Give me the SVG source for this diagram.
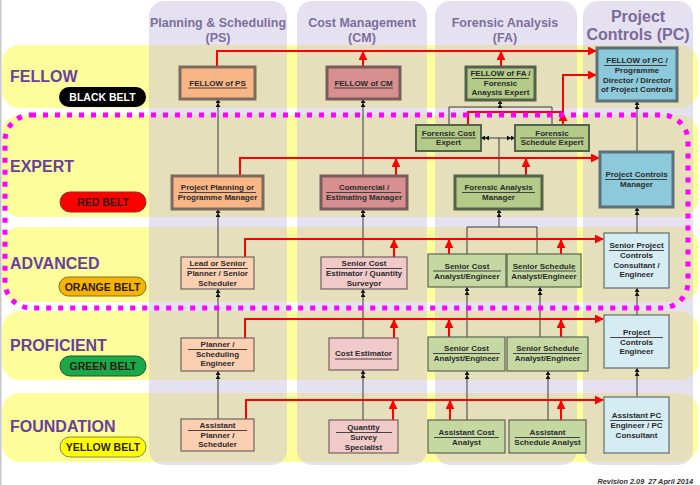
<svg xmlns="http://www.w3.org/2000/svg" width="700" height="485" viewBox="0 0 700 485">
<defs>
<style>
.row{fill:#fdfd9c}
.col{fill:rgb(202,192,223);fill-opacity:0.47}
.hd{font-family:"Liberation Sans",Arial,sans-serif;font-weight:bold;font-size:12.5px;fill:#7d6e9f;text-anchor:middle}
.hd2{font-family:"Liberation Sans",Arial,sans-serif;font-weight:bold;font-size:16px;fill:#7a6a9a;text-anchor:middle}
.lvl{font-family:"Liberation Sans",Arial,sans-serif;font-weight:bold;font-size:16px;fill:#6a3f9e}
.belt{font-family:"Liberation Sans",Arial,sans-serif;font-weight:bold;font-size:10.5px;text-anchor:middle;fill:#2a1a10}
.t{font-family:"Liberation Sans",Arial,sans-serif;font-weight:bold;font-size:8px;fill:#2b2b2b;text-anchor:middle}
.ul{stroke:#333;stroke-width:0.9}
.thk{stroke-width:3}
.thn{stroke-width:1.2}
.ps1{fill:#f8b585;stroke:#7d6b5d}
.ps2{fill:#fbcfb1;stroke:#6f6560}
.cm1{fill:#d88f8f;stroke:#7a5c5c}
.cm2{fill:#f0c9c9;stroke:#756060}
.fa1{fill:#b3ca88;stroke:#55624a}
.fa2{fill:#c5d8a2;stroke:#5a6450}
.pc1{fill:#8ccadb;stroke:#5d6f78}
.pc2{fill:#d6ecf3;stroke:#5f6d74}
.bk{fill:none;stroke:#3a3a3a;stroke-width:1}
.rd{fill:none;stroke:#ff0000;stroke-width:2}
</style>
<marker id="dbl" viewBox="0 0 8 5" refX="8" refY="2.5" markerWidth="8" markerHeight="5" markerUnits="userSpaceOnUse" orient="auto"><path d="M0,0 L4,2.5 L0,5 Z M4,0 L8,2.5 L4,5 Z" fill="#111"/></marker>
<marker id="ra" viewBox="0 0 10 10" refX="9" refY="5" markerWidth="9" markerHeight="9" markerUnits="userSpaceOnUse" orient="auto"><path d="M0,0 L10,5 L0,10 Z" fill="#ff0000"/></marker>
</defs>
<rect x="0" y="0" width="700" height="485" fill="#ffffff"/>
<rect x="0" y="0" width="1.5" height="485" fill="#c8c8c8"/>

<g id="rows">
<rect class="row" x="2" y="45" width="696" height="63" rx="18"/>
<rect class="row" x="2" y="115" width="696" height="102" rx="18"/>
<rect class="row" x="2" y="227" width="696" height="75" rx="18"/>
<rect class="row" x="2" y="311" width="696" height="69" rx="18"/>
<rect class="row" x="2" y="393" width="696" height="69" rx="18"/>
</g>
<g id="columns">
<rect class="col" x="149" y="1" width="138" height="464" rx="15"/>
<rect class="col" x="297" y="1" width="130" height="464" rx="15"/>
<rect class="col" x="435" y="1" width="142" height="464" rx="15"/>
<rect class="col" x="583" y="1" width="110" height="464" rx="15"/>
<text class="hd" x="218" y="27">Planning &amp; Scheduling</text>
<text class="hd" x="218" y="42">(PS)</text>
<text class="hd" x="362" y="27">Cost Management</text>
<text class="hd" x="362" y="42">(CM)</text>
<text class="hd" x="505" y="27">Forensic Analysis</text>
<text class="hd" x="505" y="42">(FA)</text>
<text class="hd2" x="638" y="22">Project</text>
<text class="hd2" x="638" y="40">Controls (PC)</text>
</g>

<g id="levels">
<text class="lvl" x="10" y="82">FELLOW</text>
<rect x="59" y="87" width="87" height="20" rx="10" fill="#000"/>
<text class="belt" x="102.5" y="101" style="fill:#ffffff">BLACK BELT</text>
<text class="lvl" x="10" y="172">EXPERT</text>
<rect x="60" y="192" width="86" height="20" rx="10" fill="#ff0000" stroke="#8a3030" stroke-width="1"/>
<text class="belt" x="103" y="206">RED BELT</text>
<text class="lvl" x="10" y="269">ADVANCED</text>
<rect x="59" y="277" width="87" height="19" rx="9.5" fill="#f5b400" stroke="#8a6a20" stroke-width="1"/>
<text class="belt" x="102.5" y="290.5">ORANGE BELT</text>
<text class="lvl" x="10" y="351">PROFICIENT</text>
<rect x="60" y="356" width="86" height="20" rx="10" fill="#1aa84a" stroke="#1a5a30" stroke-width="1"/>
<text class="belt" x="103" y="370">GREEN BELT</text>
<text class="lvl" x="10" y="432">FOUNDATION</text>
<rect x="60" y="437" width="86" height="20" rx="10" fill="#ffff00" stroke="#8a8a40" stroke-width="1"/>
<text class="belt" x="103" y="451">YELLOW BELT</text>
</g>

<g id="connectors">
<path class="bk" marker-end="url(#dbl)" d="M218,419 V371"/>
<path class="bk" marker-end="url(#dbl)" d="M218,338 V289"/>
<path class="bk" marker-end="url(#dbl)" d="M218,257 V209"/>
<path class="bk" marker-end="url(#dbl)" d="M218,176 V99"/>
<path class="bk" marker-end="url(#dbl)" d="M363,420 V370"/>
<path class="bk" marker-end="url(#dbl)" d="M363,338 V289"/>
<path class="bk" marker-end="url(#dbl)" d="M363,257 V209"/>
<path class="bk" marker-end="url(#dbl)" d="M363,176 V99"/>
<path class="bk" marker-end="url(#dbl)" d="M467,420 V371"/>
<path class="bk" marker-end="url(#dbl)" d="M548,420 V371"/>
<path class="bk" marker-end="url(#dbl)" d="M467,337 V287"/>
<path class="bk" marker-end="url(#dbl)" d="M540,337 V287"/>
<path class="bk" d="M467,254 V227 H537 V254"/>
<path class="bk" marker-end="url(#dbl)" d="M499,227 V209"/>
<path class="bk" d="M499,176 V138"/>
<path class="bk" marker-end="url(#dbl)" d="M499,138 H481"/>
<path class="bk" marker-end="url(#dbl)" d="M499,138 H515"/>
<path class="bk" d="M449,125 V107 H552 V125"/>
<path class="bk" marker-end="url(#dbl)" d="M500,108 V100"/>
<path class="bk" marker-end="url(#dbl)" d="M637,397 V368"/>
<path class="bk" marker-end="url(#dbl)" d="M637,315 V288"/>
<path class="bk" marker-end="url(#dbl)" d="M637,233 V207"/>
<path class="bk" marker-end="url(#dbl)" d="M637,152 V101"/>
<path class="rd" marker-end="url(#ra)" d="M217,67 V51 H596"/>
<path class="rd" marker-end="url(#ra)" d="M363,67 V52"/>
<path class="rd" marker-end="url(#ra)" d="M501,67 V52"/>
<path class="rd" marker-end="url(#ra)" d="M468,125 V112 H563 V75 H596"/>
<path class="rd" marker-end="url(#ra)" d="M563,125 V113"/>
<path class="rd" marker-end="url(#ra)" d="M240,176 V158 H599"/>
<path class="rd" marker-end="url(#ra)" d="M396,176 V159"/>
<path class="rd" marker-end="url(#ra)" d="M526,176 V159"/>
<path class="rd" marker-end="url(#ra)" d="M245,257 V239 H603"/>
<path class="rd" marker-end="url(#ra)" d="M394,257 V240"/>
<path class="rd" marker-end="url(#ra)" d="M449,254 V240"/>
<path class="rd" marker-end="url(#ra)" d="M561,254 V240"/>
<path class="rd" marker-end="url(#ra)" d="M245,338 V319 H603"/>
<path class="rd" marker-end="url(#ra)" d="M394,338 V320"/>
<path class="rd" marker-end="url(#ra)" d="M449,337 V320"/>
<path class="rd" marker-end="url(#ra)" d="M561,337 V320"/>
<path class="rd" marker-end="url(#ra)" d="M246,419 V400 H603"/>
<path class="rd" marker-end="url(#ra)" d="M393,420 V401"/>
<path class="rd" marker-end="url(#ra)" d="M450,420 V401"/>
<path class="rd" marker-end="url(#ra)" d="M561,420 V401"/>
</g>

<g id="ps-fellow"><rect class="ps1 thk" x="180" y="67" width="75" height="32"/>
<text class="t" x="217.5" y="85.5">FELLOW of PS</text><line class="ul" x1="188" y1="88" x2="247" y2="88"/></g>
<g id="ps-manager"><rect class="ps1 thk" x="172" y="176" width="91" height="33"/>
<text class="t" x="217.5" y="190">Project Planning or</text><text class="t" x="217.5" y="200">Programme Manager</text><line class="ul" x1="179" y1="192.5" x2="256" y2="192.5"/></g>
<g id="ps-lead"><rect class="ps2 thn" x="181" y="257" width="73" height="32"/>
<text class="t" x="217.5" y="266">Lead or Senior</text><text class="t" x="217.5" y="276">Planner / Senior</text><text class="t" x="217.5" y="285.5">Scheduler</text><line class="ul" x1="187" y1="268.5" x2="248" y2="268.5"/></g>
<g id="ps-planner"><rect class="ps2 thn" x="181" y="338" width="73" height="33"/>
<text class="t" x="217.5" y="347">Planner /</text><text class="t" x="217.5" y="356.5">Scheduling</text><text class="t" x="217.5" y="366">Engineer</text><line class="ul" x1="188" y1="349.5" x2="247" y2="349.5"/></g>
<g id="ps-assistant"><rect class="ps2 thn" x="181" y="419" width="73" height="32"/>
<text class="t" x="217.5" y="428">Assistant</text><text class="t" x="217.5" y="437.5">Planner /</text><text class="t" x="217.5" y="447">Scheduler</text><line class="ul" x1="188" y1="430.5" x2="247" y2="430.5"/></g>

<g id="cm-fellow"><rect class="cm1 thk" x="327" y="67" width="73" height="32"/>
<text class="t" x="363.5" y="85.5">FELLOW of CM</text><line class="ul" x1="334" y1="88" x2="393" y2="88"/></g>
<g id="cm-manager"><rect class="cm1 thk" x="321" y="176" width="86" height="33"/>
<text class="t" x="364" y="190">Commercial /</text><text class="t" x="364" y="200">Estimating Manager</text><line class="ul" x1="326" y1="192.5" x2="401" y2="192.5"/></g>
<g id="cm-senior"><rect class="cm2 thn" x="321" y="257" width="86" height="32"/>
<text class="t" x="364" y="266">Senior Cost</text><text class="t" x="364" y="276">Estimator / Quantity</text><text class="t" x="364" y="285.5">Surveyor</text><line class="ul" x1="326" y1="268.5" x2="402" y2="268.5"/></g>
<g id="cm-estimator"><rect class="cm2 thn" x="329" y="338" width="69" height="32"/>
<text class="t" x="363.5" y="356">Cost Estimator</text><line class="ul" x1="335" y1="359" x2="392" y2="359"/></g>
<g id="cm-qss"><rect class="cm2 thn" x="329" y="420" width="69" height="33"/>
<text class="t" x="363.5" y="430">Quantity</text><text class="t" x="363.5" y="440">Survey</text><text class="t" x="363.5" y="449.5">Specialist</text><line class="ul" x1="336" y1="432.5" x2="392" y2="432.5"/></g>

<g id="fa-fellow"><rect class="fa1 thk" x="466" y="67" width="69" height="33"/>
<text class="t" x="500.5" y="76">FELLOW of FA /</text><text class="t" x="500.5" y="85.5">Forensic</text><text class="t" x="500.5" y="95">Anaysis Expert</text><line class="ul" x1="472" y1="78.5" x2="529" y2="78.5"/></g>
<g id="fa-cost-expert"><rect class="fa1" stroke-width="2" x="416" y="125" width="65" height="26"/>
<text class="t" x="448.5" y="135.5">Forensic Cost</text><text class="t" x="448.5" y="145">Expert</text><line class="ul" x1="421" y1="138" x2="476" y2="138"/></g>
<g id="fa-schedule-expert"><rect class="fa1" stroke-width="2" x="515" y="125" width="74" height="26"/>
<text class="t" x="552" y="135.5">Forensic</text><text class="t" x="552" y="145">Schedule Expert</text><line class="ul" x1="520" y1="138" x2="584" y2="138"/></g>
<g id="fa-manager"><rect class="fa1 thk" x="455" y="176" width="87" height="33"/>
<text class="t" x="498.5" y="190">Forensic Analysis</text><text class="t" x="498.5" y="200">Manager</text><line class="ul" x1="462" y1="192.5" x2="535" y2="192.5"/></g>
<g id="fa-senior-cost-adv"><rect class="fa2 thn" x="428" y="254" width="78" height="33"/>
<text class="t" x="467" y="268.5">Senior Cost</text><text class="t" x="467" y="278.5">Analyst/Engineer</text><line class="ul" x1="433" y1="271" x2="501" y2="271"/></g>
<g id="fa-senior-schedule-adv"><rect class="fa2 thn" x="507" y="254" width="74" height="33"/>
<text class="t" x="544" y="268.5">Senior Schedule</text><text class="t" x="544" y="278.5">Analyst/Engineer</text><line class="ul" x1="512" y1="271" x2="576" y2="271"/></g>
<g id="fa-senior-cost-pro"><rect class="fa2 thn" x="428" y="337" width="77" height="34"/>
<text class="t" x="466.5" y="351">Senior Cost</text><text class="t" x="466.5" y="361">Analyst/Engineer</text><line class="ul" x1="433" y1="353.5" x2="500" y2="353.5"/></g>
<g id="fa-senior-schedule-pro"><rect class="fa2 thn" x="507" y="337" width="81" height="34"/>
<text class="t" x="547.5" y="351">Senior Schedule</text><text class="t" x="547.5" y="361">Analyst/Engineer</text><line class="ul" x1="513" y1="353.5" x2="582" y2="353.5"/></g>
<g id="fa-assistant-cost"><rect class="fa2 thn" x="428" y="420" width="77" height="33"/>
<text class="t" x="466.5" y="435">Assistant Cost</text><text class="t" x="466.5" y="444.5">Analyst</text><line class="ul" x1="434" y1="437.5" x2="499" y2="437.5"/></g>
<g id="fa-assistant-schedule"><rect class="fa2 thn" x="509" y="420" width="77" height="33"/>
<text class="t" x="547.5" y="435">Assistant</text><text class="t" x="547.5" y="444.5">Schedule Analyst</text><line class="ul" x1="515" y1="437.5" x2="580" y2="437.5"/></g>

<g id="pc-fellow"><rect class="pc1 thk" x="597" y="48" width="80" height="53"/>
<text class="t" x="637" y="63">FELLOW of PC /</text><text class="t" x="637" y="73">Programme</text><text class="t" x="637" y="82.5">Director / Director</text><text class="t" x="637" y="92">of Project Controls</text><line class="ul" x1="604" y1="65.5" x2="667" y2="65.5"/></g>
<g id="pc-manager"><rect class="pc1 thk" x="600" y="152" width="73" height="55"/>
<text class="t" x="636.5" y="177">Project Controls</text><text class="t" x="636.5" y="186.5">Manager</text><line class="ul" x1="605" y1="179.5" x2="667" y2="179.5"/></g>
<g id="pc-senior"><rect class="pc2 thn" x="604" y="233" width="65" height="55"/>
<text class="t" x="636.5" y="248">Senior Project</text><text class="t" x="636.5" y="258">Controls</text><text class="t" x="636.5" y="267.5">Consultant /</text><text class="t" x="636.5" y="277">Engineer</text><line class="ul" x1="609" y1="250.5" x2="664" y2="250.5"/></g>
<g id="pc-engineer"><rect class="pc2 thn" x="604" y="315" width="65" height="53"/>
<text class="t" x="636.5" y="335">Project</text><text class="t" x="636.5" y="344.5">Controls</text><text class="t" x="636.5" y="354">Engineer</text><line class="ul" x1="610" y1="337.5" x2="663" y2="337.5"/></g>
<g id="pc-assistant"><rect class="pc2 thn" x="604" y="397" width="65" height="56"/>
<text class="t" x="636.5" y="418">Assistant PC</text><text class="t" x="636.5" y="428">Engineer / PC</text><text class="t" x="636.5" y="437.5">Consultant</text><line class="ul" x1="610" y1="420.5" x2="663" y2="420.5"/></g>

<g id="expert-boundary">
<rect x="5" y="115" width="683" height="193" rx="26" fill="none" stroke="#ff00ff" stroke-width="5" stroke-dasharray="5 7"/>
</g>

<text x="693" y="484" xml:space="preserve" text-anchor="end" style="font-family:'Liberation Sans',Arial,sans-serif;font-weight:bold;font-style:italic;font-size:7.3px;fill:#333">Revision 2.09  27 April 2014</text>
</svg>
